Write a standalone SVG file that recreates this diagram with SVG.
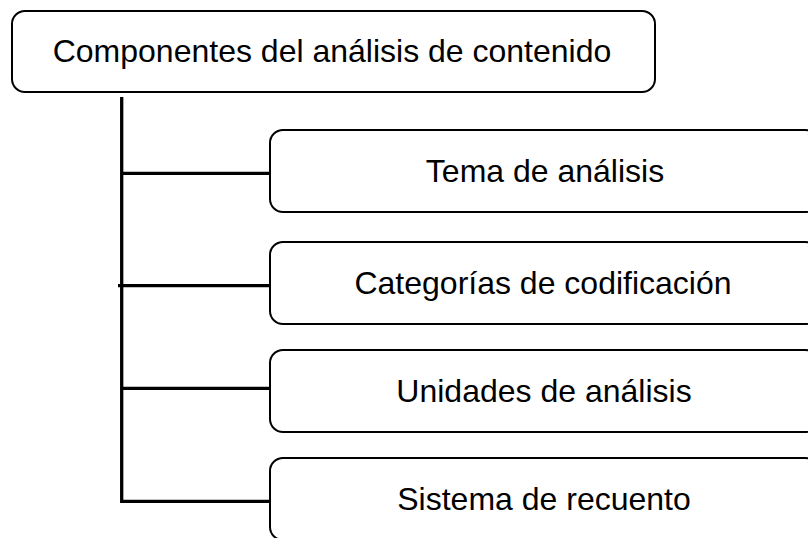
<svg xmlns="http://www.w3.org/2000/svg" width="808" height="538" viewBox="0 0 808 538">
<style>
.box{fill:#fff;stroke:#000;stroke-width:2}
.lbl{font-family:"Liberation Sans",Arial,sans-serif;font-size:32px;fill:#000;text-anchor:middle}
.con{fill:none;stroke:#000;stroke-width:3.3;stroke-linecap:butt;stroke-linejoin:miter}
</style>
<rect width="808" height="538" fill="#fff"/>
<g id="connectors">
<path class="con" d="M121.7,97 V501.3 H270"/>
<path class="con" d="M121.7,173.3 H270"/>
<path class="con" d="M118,285.7 H270"/>
<path class="con" d="M121.7,388.3 H270"/>
</g>
<g id="root">
<rect class="box" x="12" y="11" width="643" height="81" rx="13"/>
<text class="lbl" x="332" y="61.7">Componentes del análisis de contenido</text>
</g>
<g id="tema">
<rect class="box" x="270" y="130" width="548" height="82" rx="13"/>
<text class="lbl" x="545" y="181.7">Tema de análisis</text>
</g>
<g id="categorias">
<rect class="box" x="270" y="242" width="548" height="82" rx="13"/>
<text class="lbl" x="543" y="293.7">Categorías de codificación</text>
</g>
<g id="unidades">
<rect class="box" x="270" y="350" width="548" height="82" rx="13"/>
<text class="lbl" x="544" y="401.7">Unidades de análisis</text>
</g>
<g id="sistema">
<rect class="box" x="270" y="458" width="548" height="82" rx="13"/>
<text class="lbl" x="544" y="509.7">Sistema de recuento</text>
</g>
</svg>
